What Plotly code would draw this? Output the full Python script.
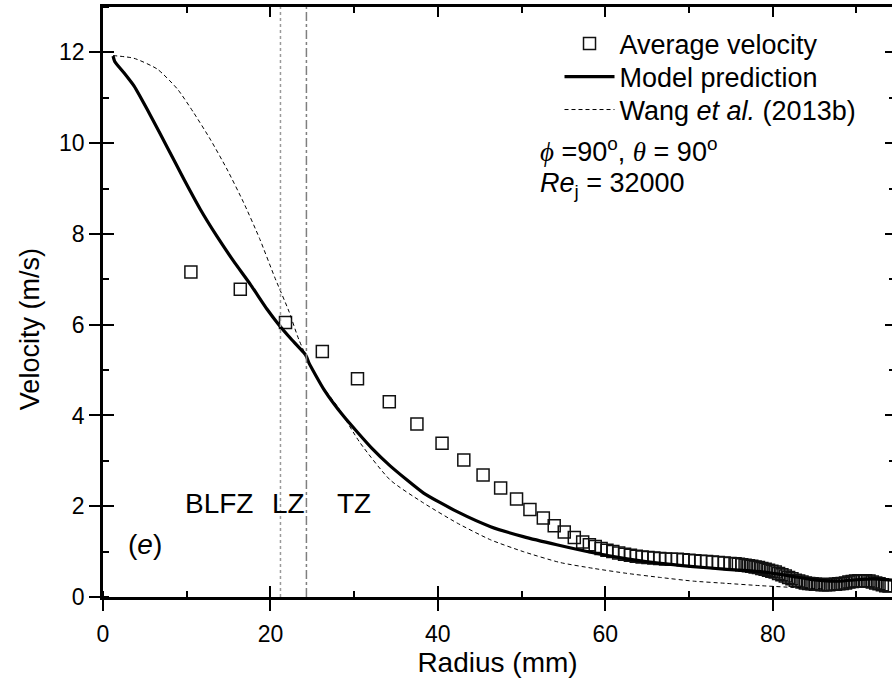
import plotly.graph_objects as go

# ---------------- data ----------------
avg_r = [10.5, 16.4, 21.8, 26.2, 30.4, 34.2, 37.5, 40.5, 43.1, 45.4, 47.5, 49.4,
         51.0, 52.6, 53.9, 55.1, 56.3, 57.3, 58.1, 58.8, 59.5, 60.2, 60.9, 61.6,
         62.3, 63.0, 63.7, 64.4, 65.1, 65.8, 66.5, 67.2, 67.9, 68.6, 69.3, 70.0,
         70.7, 71.4, 72.1, 72.8, 73.5, 74.2, 74.9, 75.5, 75.9, 76.3, 76.7, 77.1,
         77.5, 77.9, 78.3, 78.7, 79.1, 79.5, 79.9, 80.3, 80.7, 81.1, 81.5, 81.9,
         82.3, 82.7, 83.1, 83.5, 83.9, 84.3, 84.7, 85.1, 85.5, 85.9, 86.3, 86.7,
         87.1, 87.5, 87.9, 88.3, 88.7, 89.1, 89.5, 89.9, 90.3, 90.7, 91.1, 91.5,
         91.9, 92.3, 92.7, 93.1, 93.5, 93.9]
avg_v = [7.16, 6.78, 6.05, 5.41, 4.81, 4.30, 3.81, 3.39, 3.02, 2.69, 2.40, 2.16,
         1.93, 1.74, 1.57, 1.43, 1.31, 1.21, 1.15, 1.11, 1.07, 1.03, 1.00, 0.97,
         0.94, 0.92, 0.90, 0.88, 0.87, 0.86, 0.85, 0.84, 0.83, 0.83, 0.82, 0.81,
         0.80, 0.79, 0.78, 0.77, 0.76, 0.75, 0.74, 0.73, 0.72, 0.71, 0.70, 0.69,
         0.68, 0.66, 0.65, 0.63, 0.61, 0.59, 0.57, 0.55, 0.52, 0.49, 0.46, 0.43,
         0.40, 0.37, 0.35, 0.33, 0.31, 0.30, 0.29, 0.28, 0.28, 0.27, 0.27, 0.27,
         0.28, 0.28, 0.29, 0.30, 0.31, 0.33, 0.34, 0.35, 0.36, 0.36, 0.36, 0.35,
         0.33, 0.31, 0.29, 0.27, 0.25, 0.24]

model_r = [1.2, 1.4, 2.5, 3.7, 5.7, 7.7, 9.65, 11.6, 13.6, 15.6, 17.6, 19.6, 21.0,
           22.5, 24.0, 24.3, 24.6, 26.4, 28.75, 32.1, 34.3, 38.3, 42.3, 46.3, 50.2,
           54.2, 58.4, 62.6, 66.6, 70.5, 74.5, 78.5, 80.5, 82.5, 84.5, 86.0, 88.0,
           90.0, 92.0, 94.3]
model_v = [11.92, 11.80, 11.55, 11.26, 10.60, 9.90, 9.21, 8.55, 7.95, 7.40, 6.89,
           6.34, 6.00, 5.68, 5.38, 5.30, 5.16, 4.57, 3.98, 3.28, 2.89, 2.29, 1.88,
           1.55, 1.33, 1.15, 0.98, 0.84, 0.74, 0.67, 0.61, 0.56, 0.51, 0.45, 0.39,
           0.36, 0.35, 0.38, 0.40, 0.37]

wang_r = [1.2, 3.7, 6.5, 8.9, 10.8, 12.8, 14.8, 16.8, 18.7, 20.5, 22.2, 23.4, 25.6,
          28.0, 30.7, 34.3, 38.3, 42.3, 46.3, 50.2, 54.6, 58.6, 62.6, 66.6, 70.5,
          74.5, 78.5, 82.5, 86.0]
wang_v = [11.93, 11.87, 11.63, 11.19, 10.68, 10.09, 9.43, 8.69, 7.90, 7.05, 6.30,
          5.67, 4.80, 4.20, 3.40, 2.58, 2.07, 1.63, 1.26, 1.00, 0.76, 0.63, 0.52,
          0.43, 0.35, 0.30, 0.25, 0.21, 0.18]

zone_bounds = [21.2, 24.3]
zone_names = ["BLFZ", "LZ", "TZ"]
zone_label_r = [13.8, 22.2, 30.0]
zone_label_v = 2.07

x_range = [0, 94.25]
y_range = [0, 13]
x_ticks = [0, 20, 40, 60, 80]
y_ticks = [0, 2, 4, 6, 8, 10, 12]

FONT = "Liberation Sans, Arial, sans-serif"

fig = go.Figure()

fig.add_trace(go.Scatter(
    x=avg_r, y=avg_v, mode="markers", name="Average velocity", legend="legend",
    marker=dict(symbol="square-open", size=12, color="#111111",
                line=dict(width=1.5, color="#111111")),
))
fig.add_trace(go.Scatter(
    x=model_r, y=model_v, mode="lines", name="Model prediction", legend="legend2",
    line=dict(color="black", width=3.2, shape="spline", smoothing=0.5),
))
fig.add_trace(go.Scatter(
    x=wang_r, y=wang_v, mode="lines", name="Wang <i>et al.</i> (2013b)", legend="legend3",
    line=dict(color="black", width=1, dash="4px,3px", shape="spline", smoothing=0.6),
))

# overlay axes (for crossing ticks / mirrored inside ticks)
for xa, ya in [("x2", "y2"), ("x3", "y3")]:
    fig.add_trace(go.Scatter(x=[None], y=[None], xaxis=xa, yaxis=ya,
                             showlegend=False, hoverinfo="skip"))

# zone boundaries
fig.add_vline(x=zone_bounds[0], line=dict(color="#9a9a9a", width=1.5, dash="dot"))
fig.add_vline(x=zone_bounds[1], line=dict(color="#7f7f7f", width=1.5, dash="dashdot"))

for name, xr in zip(zone_names, zone_label_r):
    fig.add_annotation(x=xr, y=zone_label_v, text=name, showarrow=False,
                       font=dict(family=FONT, size=28, color="black"),
                       xanchor="center", yanchor="middle")

fig.add_annotation(x=5.05, y=1.15, text="(<i>e</i>)", showarrow=False,
                   font=dict(family=FONT, size=28, color="black"),
                   xanchor="center", yanchor="middle")

fig.add_annotation(
    x=52.0, y=9.85, xanchor="left", yanchor="middle", showarrow=False,
    text=('<span style="font-family:Liberation Serif"><i>ϕ</i></span> =90<sup>o</sup>, '
          '<span style="font-family:Liberation Serif"><i>θ</i></span> = 90<sup>o</sup>'),
    font=dict(family=FONT, size=27, color="black"))
fig.add_annotation(
    x=52.0, y=9.07, xanchor="left", yanchor="middle", showarrow=False,
    text="<i>Re</i><sub>j</sub> = 32000",
    font=dict(family=FONT, size=27, color="black"))

# y axis title as annotation (centred lower than the domain middle, as in the reference)
fig.add_annotation(xref="paper", yref="paper", x=-0.0925, y=0.454,
                   text="Velocity (m/s)", textangle=-90, showarrow=False,
                   xanchor="center", yanchor="middle",
                   font=dict(family=FONT, size=27, color="black"))

axis_common = dict(showgrid=False, zeroline=False, linecolor="black",
                   tickcolor="black", tickwidth=2)

legend_common = dict(xanchor="left", yanchor="top", bgcolor="rgba(0,0,0,0)",
                     borderwidth=0, itemwidth=50,
                     font=dict(family=FONT, size=27, color="black"))

fig.update_layout(
    width=892, height=693,
    margin=dict(l=103, r=0, t=7, b=96),
    paper_bgcolor="white", plot_bgcolor="white",
    font=dict(family=FONT, color="black"),
    showlegend=True,
    legend=dict(x=0.5786, y=0.9788, **legend_common),
    legend2=dict(x=0.5786, y=0.9229, **legend_common),
    legend3=dict(x=0.5786, y=0.8670, **legend_common),
    xaxis=dict(range=x_range, tickvals=x_ticks, ticks="outside", ticklen=11,
               showline=True, linewidth=2.5, tickfont=dict(size=23),
               ticklabelstandoff=4,
               minor=dict(dtick=10, tick0=0, ticks="inside", ticklen=6,
                          tickwidth=2, tickcolor="black"),
               title=dict(text="Radius (mm)", font=dict(size=28), standoff=3),
               automargin=False, **axis_common),
    yaxis=dict(range=y_range, tickvals=y_ticks, ticks="outside", ticklen=11,
               showline=True, linewidth=2.5, tickfont=dict(size=23),
               ticklabelstandoff=0,
               minor=dict(dtick=1, tick0=0, ticks="inside", ticklen=6,
                          tickwidth=2, tickcolor="black"),
               automargin=False, **axis_common),
    xaxis2=dict(range=x_range, overlaying="x", side="bottom", anchor="y2",
                tickvals=x_ticks, ticks="inside", ticklen=11, showline=False,
                showticklabels=False, automargin=False, **axis_common),
    yaxis2=dict(range=y_range, overlaying="y", side="left", anchor="x2",
                tickvals=y_ticks, ticks="inside", ticklen=11, showline=False,
                showticklabels=False, automargin=False, **axis_common),
    xaxis3=dict(range=x_range, overlaying="x", side="top", anchor="y3",
                tickvals=x_ticks, ticks="inside", ticklen=10, showline=True,
                linewidth=2.5, showticklabels=False, automargin=False,
                minor=dict(dtick=10, tick0=0, ticks="inside", ticklen=6,
                           tickwidth=2, tickcolor="black"),
                **axis_common),
    yaxis3=dict(range=y_range, overlaying="y", side="right", anchor="x3",
                tickvals=y_ticks, ticks="inside", ticklen=7, showline=False,
                showticklabels=False, automargin=False,
                minor=dict(dtick=1, tick0=0, ticks="inside", ticklen=3,
                           tickwidth=2, tickcolor="black"),
                **axis_common),
)

fig.write_html("out.html")
